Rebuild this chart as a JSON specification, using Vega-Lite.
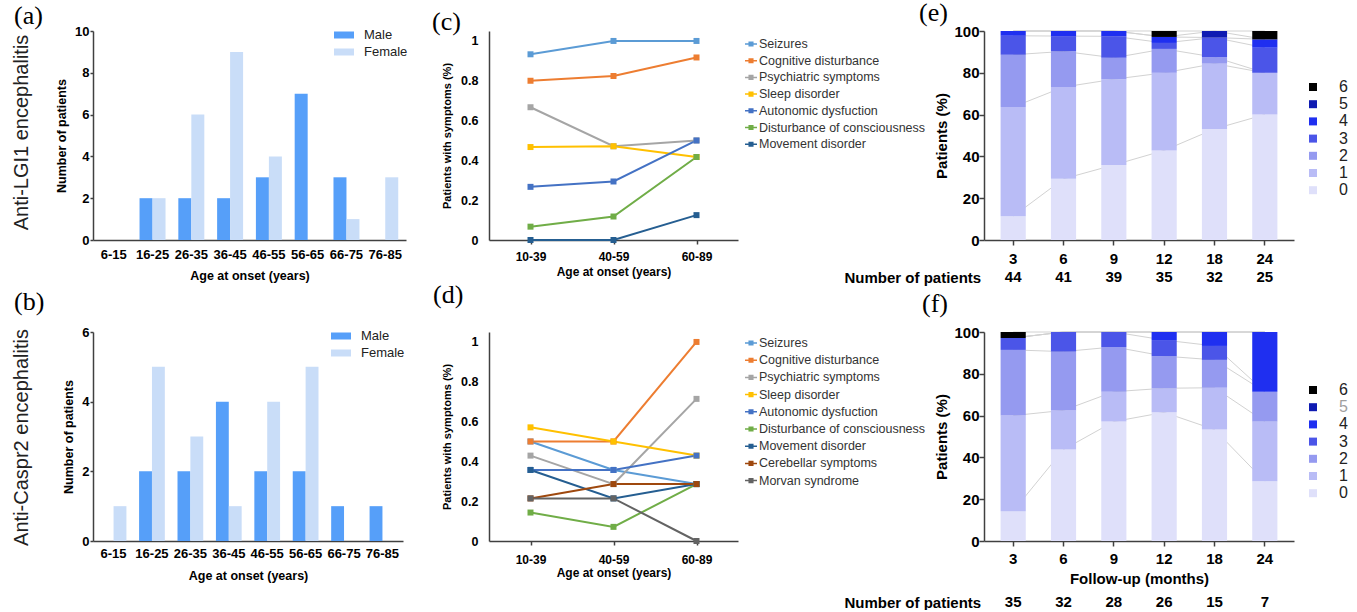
{
  "$schema": "https://vega.github.io/schema/vega-lite/v6.json",
  "padding": {"left": 10, "top": 0, "right": 0, "bottom": 0},
  "columns": 4,
  "spacing": {"row": 92, "column": 83},
  "bounds": "flush",
  "resolve": {
    "scale": {"x": "independent", "y": "independent", "color": "independent", "xOffset": "independent"},
    "legend": {"color": "independent"}
  },
  "concat": [
    {
      "width": 313, "height": 209,
      "title": {"text": "(a)", "dx": -79, "offset": -4},
      "data": {"values": [
        {"age": "6-15", "sex": "Male", "n": 0}, {"age": "16-25", "sex": "Male", "n": 2}, {"age": "26-35", "sex": "Male", "n": 2}, {"age": "36-45", "sex": "Male", "n": 2},
        {"age": "46-55", "sex": "Male", "n": 3}, {"age": "56-65", "sex": "Male", "n": 7}, {"age": "66-75", "sex": "Male", "n": 3}, {"age": "76-85", "sex": "Male", "n": 0},
        {"age": "6-15", "sex": "Female", "n": 0}, {"age": "16-25", "sex": "Female", "n": 2}, {"age": "26-35", "sex": "Female", "n": 6}, {"age": "36-45", "sex": "Female", "n": 9},
        {"age": "46-55", "sex": "Female", "n": 4}, {"age": "56-65", "sex": "Female", "n": 0}, {"age": "66-75", "sex": "Female", "n": 1}, {"age": "76-85", "sex": "Female", "n": 3}
      ]},
      "encoding": {
        "x": {"field": "age", "type": "nominal", "sort": ["6-15", "16-25", "26-35", "36-45", "46-55", "56-65", "66-75", "76-85"],
          "scale": {"paddingInner": 0.33, "paddingOuter": 0.2},
          "axis": {"title": "Age at onset (years)", "labelAngle": 0, "ticks": false, "labelPadding": 8, "labelFontSize": 13, "titleFontSize": 12.5, "titlePadding": 8, "labelOverlap": false}},
        "xOffset": {"field": "sex", "type": "nominal", "scale": {"domain": ["Male", "Female"]}},
        "color": {"field": "sex", "type": "nominal", "scale": {"domain": ["Male", "Female"], "range": ["#569ff9", "#c9ddf8"]},
          "legend": {"title": null, "orient": "none", "legendX": 241, "legendY": -6, "padding": 0, "symbolType": "M-1,-0.35H1V0.35H-1Z", "symbolSize": 400, "labelFontSize": 13, "labelOffset": 10, "rowPadding": 0, "symbolStrokeWidth": 0}}
      },
      "layer": [
        {"transform": [{"filter": "datum.sex == 'Male'"}], "mark": "bar",
          "encoding": {"y": {"field": "n", "type": "quantitative", "scale": {"domain": [0, 10], "nice": false},
            "axis": {"title": "Number of patients", "values": [0, 2, 4, 6, 8, 10], "tickSize": 3, "labelPadding": 1, "labelFontSize": 13, "titleFontSize": 12.5, "titlePadding": 6}}}},
        {"transform": [{"filter": "datum.sex == 'Female'"}], "mark": "bar",
          "encoding": {"y": {"field": "n", "type": "quantitative", "scale": {"domain": [0, 10], "nice": false},
            "axis": {"orient": "left", "title": "Anti-LGI1 encephalitis", "labels": false, "ticks": false, "domain": false, "titleFontSize": 20, "titleFontWeight": "normal", "titleColor": "#222", "titleX": -72, "titleY": 101, "titleAngle": -90, "titleAlign": "center", "titleBaseline": "middle"}}}}
      ],
      "resolve": {"scale": {"y": "independent"}}
    },
    {
      "width": 249, "height": 209,
      "title": {"text": "(c)", "dx": -57, "offset": -4},
      "data": {"values": [
        {"grp": "10-39", "sym": "Seizures", "v": 0.933}, {"grp": "40-59", "sym": "Seizures", "v": 1}, {"grp": "60-89", "sym": "Seizures", "v": 1},
        {"grp": "10-39", "sym": "Cognitive disturbance", "v": 0.8}, {"grp": "40-59", "sym": "Cognitive disturbance", "v": 0.824}, {"grp": "60-89", "sym": "Cognitive disturbance", "v": 0.917},
        {"grp": "10-39", "sym": "Psychiatric symptoms", "v": 0.667}, {"grp": "40-59", "sym": "Psychiatric symptoms", "v": 0.471}, {"grp": "60-89", "sym": "Psychiatric symptoms", "v": 0.5},
        {"grp": "10-39", "sym": "Sleep disorder", "v": 0.467}, {"grp": "40-59", "sym": "Sleep disorder", "v": 0.471}, {"grp": "60-89", "sym": "Sleep disorder", "v": 0.417},
        {"grp": "10-39", "sym": "Autonomic dysfuction", "v": 0.267}, {"grp": "40-59", "sym": "Autonomic dysfuction", "v": 0.294}, {"grp": "60-89", "sym": "Autonomic dysfuction", "v": 0.5},
        {"grp": "10-39", "sym": "Disturbance of consciousness", "v": 0.067}, {"grp": "40-59", "sym": "Disturbance of consciousness", "v": 0.118}, {"grp": "60-89", "sym": "Disturbance of consciousness", "v": 0.417},
        {"grp": "10-39", "sym": "Movement disorder", "v": 0}, {"grp": "40-59", "sym": "Movement disorder", "v": 0}, {"grp": "60-89", "sym": "Movement disorder", "v": 0.125}
      ]},
      "encoding": {
        "x": {"field": "grp", "type": "ordinal", "scale": {"type": "point", "padding": 0.5},
          "axis": {"title": "Age at onset (years)", "labelAngle": 0, "tickSize": 4, "labelPadding": 7.5, "labelFontSize": 12, "titleFontSize": 12, "titlePadding": 3.5}},
        "y": {"field": "v", "type": "quantitative", "scale": {"domain": [0, 1.05], "nice": false},
          "axis": {"title": "Patients with symptoms (%)", "values": [0, 0.2, 0.4, 0.6, 0.8, 1], "format": "~g", "tickSize": 0, "labelPadding": 11, "labelFontSize": 12.5, "titleFontSize": 11, "titlePadding": 8}},
        "color": {"field": "sym", "type": "nominal",
          "scale": {"domain": ["Seizures", "Cognitive disturbance", "Psychiatric symptoms", "Sleep disorder", "Autonomic dysfuction", "Disturbance of consciousness", "Movement disorder"],
            "range": ["#5b9bd5", "#ed7d31", "#a5a5a5", "#ffc000", "#4472c4", "#70ad47", "#255e91"]},
          "legend": {"title": null, "orient": "none", "legendX": 255, "legendY": 6, "padding": 0, "symbolType": "M-1,0H1M-0.3,-0.3H0.3V0.3H-0.3Z", "symbolSize": 144, "symbolStrokeWidth": 1.5, "symbolOpacity": 1, "labelFontSize": 12.5, "labelColor": "#333", "labelOffset": 1, "labelLimit": 300, "rowPadding": 2.7}}
      },
      "layer": [
        {"mark": {"type": "line", "strokeWidth": 2}},
        {"mark": {"type": "point", "shape": "square", "filled": true, "size": 36, "opacity": 1}}
      ]
    },
    {"width": 80, "height": 10, "data": {"values": []}, "mark": {"type": "point", "opacity": 0}},
    {
      "width": 310, "height": 209,
      "title": {"text": "(e)", "dx": -65, "offset": -2},
      "data": {"values": [
        {"month": 3, "n": "44", "lev": "0", "pct": 11.36}, {"month": 3, "n": "44", "lev": "1", "pct": 52.27}, {"month": 3, "n": "44", "lev": "2", "pct": 25.0}, {"month": 3, "n": "44", "lev": "3", "pct": 9.09}, {"month": 3, "n": "44", "lev": "4", "pct": 2.27}, {"month": 3, "n": "44", "lev": "5", "pct": 0}, {"month": 3, "n": "44", "lev": "6", "pct": 0},
        {"month": 6, "n": "41", "lev": "0", "pct": 29.27}, {"month": 6, "n": "41", "lev": "1", "pct": 43.9}, {"month": 6, "n": "41", "lev": "2", "pct": 17.07}, {"month": 6, "n": "41", "lev": "3", "pct": 7.32}, {"month": 6, "n": "41", "lev": "4", "pct": 2.44}, {"month": 6, "n": "41", "lev": "5", "pct": 0}, {"month": 6, "n": "41", "lev": "6", "pct": 0},
        {"month": 9, "n": "39", "lev": "0", "pct": 35.9}, {"month": 9, "n": "39", "lev": "1", "pct": 41.03}, {"month": 9, "n": "39", "lev": "2", "pct": 10.26}, {"month": 9, "n": "39", "lev": "3", "pct": 10.26}, {"month": 9, "n": "39", "lev": "4", "pct": 2.56}, {"month": 9, "n": "39", "lev": "5", "pct": 0}, {"month": 9, "n": "39", "lev": "6", "pct": 0},
        {"month": 12, "n": "35", "lev": "0", "pct": 42.86}, {"month": 12, "n": "35", "lev": "1", "pct": 37.14}, {"month": 12, "n": "35", "lev": "2", "pct": 11.43}, {"month": 12, "n": "35", "lev": "3", "pct": 2.86}, {"month": 12, "n": "35", "lev": "4", "pct": 2.86}, {"month": 12, "n": "35", "lev": "5", "pct": 0}, {"month": 12, "n": "35", "lev": "6", "pct": 2.85},
        {"month": 18, "n": "32", "lev": "0", "pct": 53.12}, {"month": 18, "n": "32", "lev": "1", "pct": 31.25}, {"month": 18, "n": "32", "lev": "2", "pct": 3.13}, {"month": 18, "n": "32", "lev": "3", "pct": 9.37}, {"month": 18, "n": "32", "lev": "4", "pct": 0}, {"month": 18, "n": "32", "lev": "5", "pct": 3.13}, {"month": 18, "n": "32", "lev": "6", "pct": 0},
        {"month": 24, "n": "25", "lev": "0", "pct": 60}, {"month": 24, "n": "25", "lev": "1", "pct": 20}, {"month": 24, "n": "25", "lev": "2", "pct": 0}, {"month": 24, "n": "25", "lev": "3", "pct": 12}, {"month": 24, "n": "25", "lev": "4", "pct": 4}, {"month": 24, "n": "25", "lev": "5", "pct": 0}, {"month": 24, "n": "25", "lev": "6", "pct": 4}
      ]},
      "transform": [{"stack": "pct", "groupby": ["month"], "sort": [{"field": "lev", "order": "ascending"}], "as": ["lo", "hi"]}],
      "layer": [
        {"mark": {"type": "line", "color": "#d2d2d2", "strokeWidth": 1},
          "encoding": {
            "x": {"field": "n", "type": "nominal", "sort": {"field": "month", "op": "min"}, "scale": {"type": "band", "paddingInner": 0.5, "paddingOuter": 0.33},
              "axis": {"orient": "bottom", "offset": 25, "domain": false, "ticks": false, "labelAngle": 0, "labelPadding": 4.5, "labelFontSize": 15, "title": "Number of patients", "titleFontSize": 15, "titleX": -140, "titleY": 12, "titleAlign": "left", "titleBaseline": "middle", "titleAngle": 0}},
            "y": {"field": "hi", "type": "quantitative", "stack": null, "scale": {"domain": [0, 100], "nice": false},
              "axis": {"title": "Patients (%)", "values": [0, 20, 40, 60, 80, 100], "tickSize": 5, "labelPadding": 0, "labelFontSize": 15, "titleFontSize": 15, "titlePadding": 4}},
            "detail": {"field": "lev", "type": "nominal"},
            "order": {"field": "month", "type": "quantitative"}
          }},
        {"mark": {"type": "bar"},
          "encoding": {
            "x": {"field": "month", "type": "ordinal", "scale": {"paddingInner": 0.5, "paddingOuter": 0.33},
              "axis": {"orient": "bottom", "title": null, "labelAngle": 0, "tickSize": 5, "labelPadding": 6, "labelFontSize": 15}},
            "y": {"field": "lo", "type": "quantitative", "scale": {"domain": [0, 100], "nice": false}},
            "y2": {"field": "hi"},
            "color": {"field": "lev", "type": "nominal",
              "scale": {"domain": ["6", "5", "4", "3", "2", "1", "0"], "range": ["#000000", "#0f1bb2", "#1f2ff0", "#4b55e8", "#959af0", "#b9bcf6", "#dfe0fa"]},
              "legend": {"title": null, "orient": "none", "legendX": 321, "legendY": 48, "symbolType": "square", "symbolSize": 64, "symbolStrokeWidth": 0, "labelFontSize": 16, "labelColor": "#222", "labelOffset": 18, "rowPadding": 1.2, "padding": 0}}
          }}
      ],
      "resolve": {"scale": {"x": "independent"}}
    },
    {
      "width": 310, "height": 209,
      "title": {"text": "(b)", "dx": -79, "offset": 11},
      "data": {"values": [
        {"age": "6-15", "sex": "Male", "n": 0}, {"age": "16-25", "sex": "Male", "n": 2}, {"age": "26-35", "sex": "Male", "n": 2}, {"age": "36-45", "sex": "Male", "n": 4},
        {"age": "46-55", "sex": "Male", "n": 2}, {"age": "56-65", "sex": "Male", "n": 2}, {"age": "66-75", "sex": "Male", "n": 1}, {"age": "76-85", "sex": "Male", "n": 1},
        {"age": "6-15", "sex": "Female", "n": 1}, {"age": "16-25", "sex": "Female", "n": 5}, {"age": "26-35", "sex": "Female", "n": 3}, {"age": "36-45", "sex": "Female", "n": 1},
        {"age": "46-55", "sex": "Female", "n": 4}, {"age": "56-65", "sex": "Female", "n": 5}, {"age": "66-75", "sex": "Female", "n": 0}, {"age": "76-85", "sex": "Female", "n": 0}
      ]},
      "encoding": {
        "x": {"field": "age", "type": "nominal", "sort": ["6-15", "16-25", "26-35", "36-45", "46-55", "56-65", "66-75", "76-85"],
          "scale": {"paddingInner": 0.33, "paddingOuter": 0.2},
          "axis": {"title": "Age at onset (years)", "labelAngle": 0, "ticks": false, "labelPadding": 6.5, "labelFontSize": 13, "titleFontSize": 12.5, "titlePadding": 9, "labelOverlap": false}},
        "xOffset": {"field": "sex", "type": "nominal", "scale": {"domain": ["Male", "Female"]}},
        "color": {"field": "sex", "type": "nominal", "scale": {"domain": ["Male", "Female"], "range": ["#569ff9", "#c9ddf8"]},
          "legend": {"title": null, "orient": "none", "legendX": 238, "legendY": -6, "padding": 0, "symbolType": "M-1,-0.35H1V0.35H-1Z", "symbolSize": 400, "labelFontSize": 13, "labelOffset": 10, "rowPadding": 0, "symbolStrokeWidth": 0}}
      },
      "layer": [
        {"transform": [{"filter": "datum.sex == 'Male'"}], "mark": "bar",
          "encoding": {"y": {"field": "n", "type": "quantitative", "scale": {"domain": [0, 6], "nice": false},
            "axis": {"title": "Number of patients", "values": [0, 2, 4, 6], "tickSize": 3, "labelPadding": 1, "labelFontSize": 13, "titleFontSize": 12.5, "titlePadding": 6}}}},
        {"transform": [{"filter": "datum.sex == 'Female'"}], "mark": "bar",
          "encoding": {"y": {"field": "n", "type": "quantitative", "scale": {"domain": [0, 6], "nice": false},
            "axis": {"orient": "left", "title": "Anti-Caspr2 encephalitis", "labels": false, "ticks": false, "domain": false, "titleFontSize": 20, "titleFontWeight": "normal", "titleColor": "#222", "titleX": -72, "titleY": 105, "titleAngle": -90, "titleAlign": "center", "titleBaseline": "middle"}}}}
      ],
      "resolve": {"scale": {"y": "independent"}}
    },
    {
      "width": 249, "height": 209,
      "title": {"text": "(d)", "dx": -56, "offset": 24},
      "data": {"values": [
        {"grp": "10-39", "sym": "Seizures", "v": 0.5}, {"grp": "40-59", "sym": "Seizures", "v": 0.357}, {"grp": "60-89", "sym": "Seizures", "v": 0.286},
        {"grp": "10-39", "sym": "Cognitive disturbance", "v": 0.5}, {"grp": "40-59", "sym": "Cognitive disturbance", "v": 0.5}, {"grp": "60-89", "sym": "Cognitive disturbance", "v": 1},
        {"grp": "10-39", "sym": "Psychiatric symptoms", "v": 0.429}, {"grp": "40-59", "sym": "Psychiatric symptoms", "v": 0.286}, {"grp": "60-89", "sym": "Psychiatric symptoms", "v": 0.714},
        {"grp": "10-39", "sym": "Sleep disorder", "v": 0.571}, {"grp": "40-59", "sym": "Sleep disorder", "v": 0.5}, {"grp": "60-89", "sym": "Sleep disorder", "v": 0.429},
        {"grp": "10-39", "sym": "Autonomic dysfuction", "v": 0.357}, {"grp": "40-59", "sym": "Autonomic dysfuction", "v": 0.357}, {"grp": "60-89", "sym": "Autonomic dysfuction", "v": 0.429},
        {"grp": "10-39", "sym": "Disturbance of consciousness", "v": 0.143}, {"grp": "40-59", "sym": "Disturbance of consciousness", "v": 0.071}, {"grp": "60-89", "sym": "Disturbance of consciousness", "v": 0.286},
        {"grp": "10-39", "sym": "Movement disorder", "v": 0.357}, {"grp": "40-59", "sym": "Movement disorder", "v": 0.214}, {"grp": "60-89", "sym": "Movement disorder", "v": 0.286},
        {"grp": "10-39", "sym": "Cerebellar symptoms", "v": 0.214}, {"grp": "40-59", "sym": "Cerebellar symptoms", "v": 0.286}, {"grp": "60-89", "sym": "Cerebellar symptoms", "v": 0.286},
        {"grp": "10-39", "sym": "Morvan syndrome", "v": 0.214}, {"grp": "40-59", "sym": "Morvan syndrome", "v": 0.214}, {"grp": "60-89", "sym": "Morvan syndrome", "v": 0}
      ]},
      "encoding": {
        "x": {"field": "grp", "type": "ordinal", "scale": {"type": "point", "padding": 0.5},
          "axis": {"title": "Age at onset (years)", "labelAngle": 0, "tickSize": 4, "labelPadding": 9, "labelFontSize": 12, "titleFontSize": 12, "titlePadding": 2.5}},
        "y": {"field": "v", "type": "quantitative", "scale": {"domain": [0, 1.05], "nice": false},
          "axis": {"title": "Patients with symptoms (%)", "values": [0, 0.2, 0.4, 0.6, 0.8, 1], "format": "~g", "tickSize": 0, "labelPadding": 11, "labelFontSize": 12.5, "titleFontSize": 11, "titlePadding": 8}},
        "color": {"field": "sym", "type": "nominal",
          "scale": {"domain": ["Seizures", "Cognitive disturbance", "Psychiatric symptoms", "Sleep disorder", "Autonomic dysfuction", "Disturbance of consciousness", "Movement disorder", "Cerebellar symptoms", "Morvan syndrome"],
            "range": ["#5b9bd5", "#ed7d31", "#a5a5a5", "#ffc000", "#4472c4", "#70ad47", "#255e91", "#9e480e", "#636363"]},
          "legend": {"title": null, "orient": "none", "legendX": 255, "legendY": 4, "padding": 0, "symbolType": "M-1,0H1M-0.3,-0.3H0.3V0.3H-0.3Z", "symbolSize": 144, "symbolStrokeWidth": 1.5, "symbolOpacity": 1, "labelFontSize": 12.5, "labelColor": "#333", "labelOffset": 1, "labelLimit": 300, "rowPadding": 3.2}}
      },
      "layer": [
        {"mark": {"type": "line", "strokeWidth": 2}},
        {"mark": {"type": "point", "shape": "square", "filled": true, "size": 36, "opacity": 1}}
      ]
    },
    {"width": 80, "height": 10, "data": {"values": []}, "mark": {"type": "point", "opacity": 0}},
    {
      "width": 310, "height": 209,
      "title": {"text": "(f)", "dx": -62, "offset": 8},
      "data": {"values": [
        {"month": 3, "n": "35", "lev": "0", "pct": 14.29}, {"month": 3, "n": "35", "lev": "1", "pct": 45.71}, {"month": 3, "n": "35", "lev": "2", "pct": 31.43}, {"month": 3, "n": "35", "lev": "3", "pct": 5.71}, {"month": 3, "n": "35", "lev": "4", "pct": 0}, {"month": 3, "n": "35", "lev": "5", "pct": 0}, {"month": 3, "n": "35", "lev": "6", "pct": 2.86},
        {"month": 6, "n": "32", "lev": "0", "pct": 43.75}, {"month": 6, "n": "32", "lev": "1", "pct": 18.75}, {"month": 6, "n": "32", "lev": "2", "pct": 28.12}, {"month": 6, "n": "32", "lev": "3", "pct": 9.38}, {"month": 6, "n": "32", "lev": "4", "pct": 0}, {"month": 6, "n": "32", "lev": "5", "pct": 0}, {"month": 6, "n": "32", "lev": "6", "pct": 0},
        {"month": 9, "n": "28", "lev": "0", "pct": 57.14}, {"month": 9, "n": "28", "lev": "1", "pct": 14.29}, {"month": 9, "n": "28", "lev": "2", "pct": 21.43}, {"month": 9, "n": "28", "lev": "3", "pct": 7.14}, {"month": 9, "n": "28", "lev": "4", "pct": 0}, {"month": 9, "n": "28", "lev": "5", "pct": 0}, {"month": 9, "n": "28", "lev": "6", "pct": 0},
        {"month": 12, "n": "26", "lev": "0", "pct": 61.54}, {"month": 12, "n": "26", "lev": "1", "pct": 11.54}, {"month": 12, "n": "26", "lev": "2", "pct": 15.38}, {"month": 12, "n": "26", "lev": "3", "pct": 7.69}, {"month": 12, "n": "26", "lev": "4", "pct": 3.85}, {"month": 12, "n": "26", "lev": "5", "pct": 0}, {"month": 12, "n": "26", "lev": "6", "pct": 0},
        {"month": 18, "n": "15", "lev": "0", "pct": 53.33}, {"month": 18, "n": "15", "lev": "1", "pct": 20}, {"month": 18, "n": "15", "lev": "2", "pct": 13.33}, {"month": 18, "n": "15", "lev": "3", "pct": 6.67}, {"month": 18, "n": "15", "lev": "4", "pct": 6.67}, {"month": 18, "n": "15", "lev": "5", "pct": 0}, {"month": 18, "n": "15", "lev": "6", "pct": 0},
        {"month": 24, "n": "7", "lev": "0", "pct": 28.57}, {"month": 24, "n": "7", "lev": "1", "pct": 28.57}, {"month": 24, "n": "7", "lev": "2", "pct": 14.29}, {"month": 24, "n": "7", "lev": "3", "pct": 0}, {"month": 24, "n": "7", "lev": "4", "pct": 28.57}, {"month": 24, "n": "7", "lev": "5", "pct": 0}, {"month": 24, "n": "7", "lev": "6", "pct": 0}
      ]},
      "transform": [{"stack": "pct", "groupby": ["month"], "sort": [{"field": "lev", "order": "ascending"}], "as": ["lo", "hi"]}],
      "layer": [
        {"mark": {"type": "line", "color": "#d2d2d2", "strokeWidth": 1},
          "encoding": {
            "x": {"field": "n", "type": "nominal", "sort": {"field": "month", "op": "min"}, "scale": {"type": "band", "paddingInner": 0.5, "paddingOuter": 0.33},
              "axis": {"orient": "bottom", "offset": 50, "domain": false, "ticks": false, "labelAngle": 0, "labelPadding": 3.5, "labelFontSize": 15, "title": "Number of patients", "titleFontSize": 15, "titleX": -140, "titleY": 11, "titleAlign": "left", "titleBaseline": "middle", "titleAngle": 0}},
            "y": {"field": "hi", "type": "quantitative", "stack": null, "scale": {"domain": [0, 100], "nice": false},
              "axis": {"title": "Patients (%)", "values": [0, 20, 40, 60, 80, 100], "tickSize": 5, "labelPadding": 0, "labelFontSize": 15, "titleFontSize": 15, "titlePadding": 4}},
            "detail": {"field": "lev", "type": "nominal"},
            "order": {"field": "month", "type": "quantitative"}
          }},
        {"mark": {"type": "bar"},
          "encoding": {
            "x": {"field": "month", "type": "ordinal", "scale": {"paddingInner": 0.5, "paddingOuter": 0.33},
              "axis": {"orient": "bottom", "title": "Follow-up (months)", "labelAngle": 0, "tickSize": 5, "labelPadding": 5.5, "labelFontSize": 15, "titleFontSize": 15, "titlePadding": 5}},
            "y": {"field": "lo", "type": "quantitative", "scale": {"domain": [0, 100], "nice": false}},
            "y2": {"field": "hi"},
            "color": {"field": "lev", "type": "nominal",
              "scale": {"domain": ["6", "5", "4", "3", "2", "1", "0"], "range": ["#000000", "#0f1bb2", "#1f2ff0", "#4b55e8", "#959af0", "#b9bcf6", "#dfe0fa"]},
              "legend": {"title": null, "orient": "none", "legendX": 321, "legendY": 50, "symbolType": "square", "symbolSize": 64, "symbolStrokeWidth": 0, "labelFontSize": 16, "labelColor": {"expr": "datum.value === '5' ? '#a0a0a0' : '#222'"}, "labelOffset": 18, "rowPadding": 1.2, "padding": 0}}
          }}
      ],
      "resolve": {"scale": {"x": "independent"}}
    }
  ],
  "config": {
    "view": {"stroke": null},
    "font": "Liberation Sans",
    "axis": {"grid": false, "domainColor": "#404040", "domainWidth": 1.5, "tickColor": "#404040", "tickWidth": 1.5, "labelColor": "#000", "titleColor": "#000", "labelFont": "Liberation Sans", "titleFont": "Liberation Sans", "labelFontWeight": "bold", "titleFontWeight": "bold"},
    "legend": {"labelFont": "Liberation Sans", "labelColor": "#222"},
    "title": {"font": "Liberation Serif", "fontSize": 26, "fontWeight": "normal", "anchor": "start", "frame": "group", "baseline": "alphabetic", "color": "#000"}
  }
}
